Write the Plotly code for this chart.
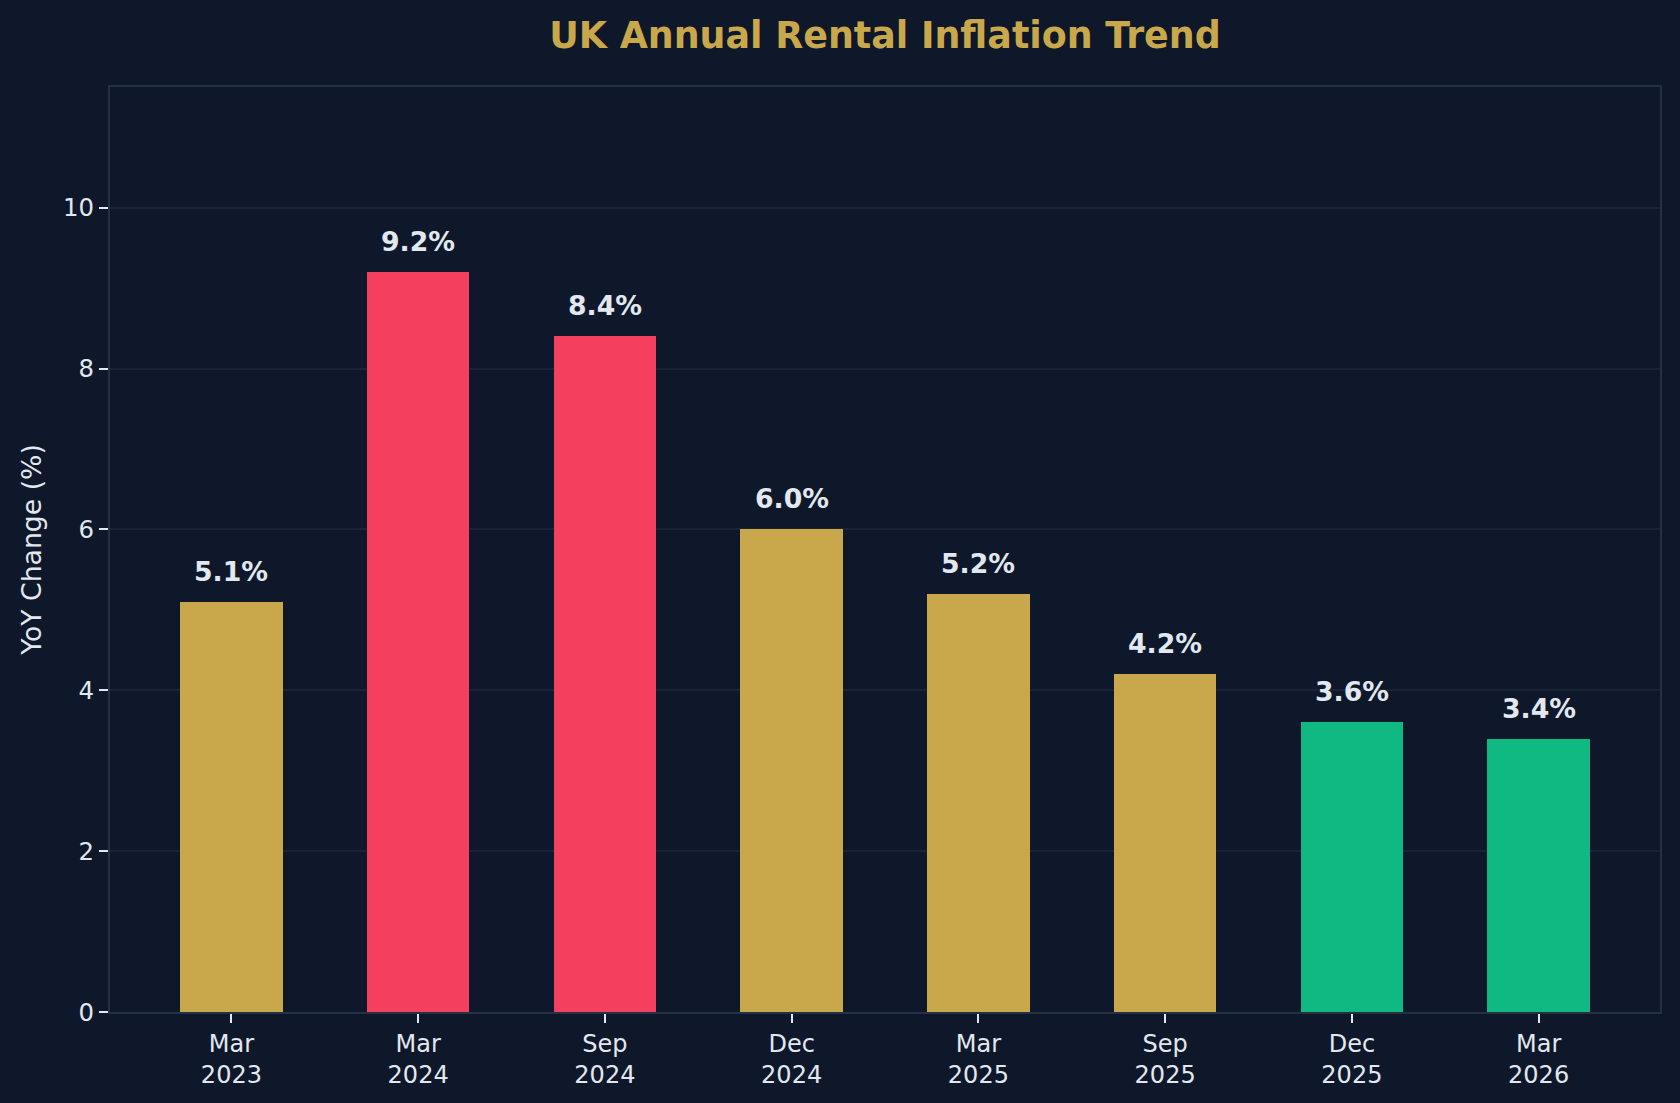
import plotly.graph_objects as go

categories = ["Mar<br>2023", "Mar<br>2024", "Sep<br>2024", "Dec<br>2024",
              "Mar<br>2025", "Sep<br>2025", "Dec<br>2025", "Mar<br>2026"]
values = [5.1, 9.2, 8.4, 6.0, 5.2, 4.2, 3.6, 3.4]
bar_colors = ["#c9a84c", "#f43f5e", "#f43f5e", "#c9a84c",
              "#c9a84c", "#c9a84c", "#10b981", "#10b981"]
value_labels = [f"{v:.1f}%" for v in values]

BG = "#0f172a"
TEXT = "#e2e8f0"
GOLD = "#c9a84c"
SPINE = "#243044"
GRID = "#1a2436"
FONT = "DejaVu Sans"

fig = go.Figure()
fig.add_trace(go.Bar(
    x=list(range(len(categories))),
    y=values,
    width=0.55,
    marker=dict(color=bar_colors, line=dict(width=0)),
    hoverinfo="skip",
))

for i, (v, lab) in enumerate(zip(values, value_labels)):
    fig.add_annotation(
        x=i, y=v, text=f"<b>{lab}</b>", showarrow=False,
        xanchor="center", yanchor="bottom", yshift=13,
        font=dict(family=FONT, size=26.7, color=TEXT),
    )

fig.update_layout(
    width=1680, height=1103,
    paper_bgcolor=BG, plot_bgcolor=BG,
    margin=dict(l=110, r=20, t=87, b=91, autoexpand=False),
    showlegend=False,
    font=dict(family=FONT, color=TEXT, size=24),
    title=dict(
        text="<b>UK Annual Rental Inflation Trend</b>",
        font=dict(family=FONT, size=36.4, color=GOLD),
        x=(110 + 1660) / 2 / 1680, xanchor="center",
        y=1 - 48 / 1103, yanchor="bottom", yref="container",
    ),
    bargap=0,
)

fig.update_xaxes(
    range=[-0.65, len(categories) - 1 + 0.65],
    tickmode="array",
    tickvals=list(range(len(categories))),
    ticktext=categories,
    ticks="outside", ticklen=9, tickwidth=2, tickcolor=TEXT,
    tickfont=dict(family=FONT, size=24, color=TEXT),
    showgrid=False, zeroline=False,
    showline=True, linecolor=SPINE, linewidth=2, mirror=True,
)
fig.update_yaxes(
    range=[0, 11.5],
    tickmode="array", tickvals=[0, 2, 4, 6, 8, 10],
    ticks="outside", ticklen=9, tickwidth=2, tickcolor=TEXT,
    tickfont=dict(family=FONT, size=24.4, color=TEXT),
    showgrid=True, gridcolor=GRID, gridwidth=1.5,
    zeroline=False,
    showline=True, linecolor=SPINE, linewidth=2, mirror=True,
    title=dict(text="YoY Change (%)", font=dict(family=FONT, size=26.7, color=TEXT), standoff=14),
)

fig.write_html("out.html")
